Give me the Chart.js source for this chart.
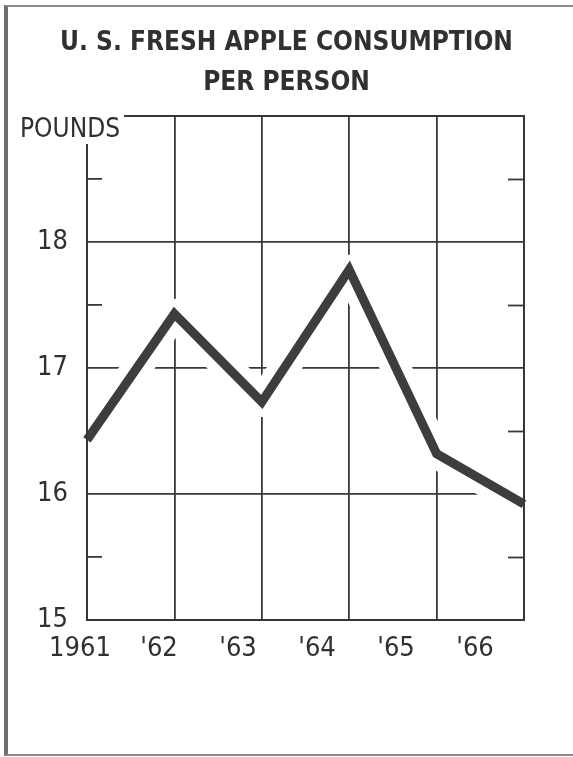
<!DOCTYPE html>
<html><head><meta charset="utf-8">
<script src="https://cdn.jsdelivr.net/npm/chart.js@4.4.1/dist/chart.umd.min.js"></script>
<style>
html,body{margin:0;padding:0;background:#fff;width:573px;height:757px;overflow:hidden;}
#frame{position:absolute;left:4px;top:5px;width:620px;height:747px;border-left:4px solid #6e6e6e;border-top:2px solid #8a8a8a;border-bottom:2px solid #8a8a8a;}
#wrap{position:absolute;left:0;top:0;width:573px;height:757px;}
</style></head><body>
<div id="frame"></div>
<div id="wrap"><canvas id="c" width="573" height="757"></canvas></div>
<script>
// ---- data ----
const years = ['1961', "'62", "'63", "'64", "'65", "'66"];
const poundsPerPerson = [16.43, 17.43, 16.73, 17.78, 16.32, 15.92];
const yLabeledTicks = [15, 16, 17, 18];
const yGridValues = [16, 17, 18];
const yMinorTicks = [15.5, 16.5, 17.5, 18.5];
const titleLines = ['U. S. FRESH APPLE CONSUMPTION', 'PER PERSON'];
const yUnitLabel = 'POUNDS';

// ---- styles ----
const INK = '#383838';
const TEXT = '#303030';
const LABEL_FONT = "'DejaVu Sans Condensed', 'Liberation Sans Narrow', sans-serif";

const unitLabelPlugin = {
  id: 'unitLabel',
  afterDraw(chart) {
    const {ctx, chartArea} = chart;
    ctx.save();
    ctx.font = "26px " + LABEL_FONT;
    const w = ctx.measureText(yUnitLabel).width;
    const x = chartArea.left - 67;
    ctx.fillStyle = '#ffffff';
    ctx.fillRect(12, chartArea.top - 14, x + w + 4 - 12, 42);
    ctx.fillStyle = TEXT;
    ctx.textBaseline = 'alphabetic';
    ctx.textAlign = 'left';
    ctx.fillText(yUnitLabel, x, chartArea.top + 21);
    ctx.restore();
  }
};

new Chart(document.getElementById('c'), {
  type: 'line',
  data: {
    labels: years,
    datasets: [
      {label: 'halo', data: poundsPerPerson, borderColor: '#ffffff', borderWidth: 30,
       pointRadius: 0, borderJoinStyle: 'round', borderCapStyle: 'round', clip: 0, order: 2},
      {label: 'Pounds per person', data: poundsPerPerson, borderColor: '#3d3d3d', borderWidth: 9,
       pointRadius: 0, borderJoinStyle: 'miter', borderCapStyle: 'butt', order: 1}
    ]
  },
  options: {
    responsive: false,
    devicePixelRatio: 1,
    animation: false,
    events: [],
    layout: {padding: 0},
    plugins: {
      legend: {display: false},
      tooltip: {enabled: false},
      title: {
        display: true, text: titleLines, color: TEXT,
        font: {family: "'DejaVu Sans Condensed', 'DejaVu Sans', sans-serif", size: 26, weight: 'bold', lineHeight: 1.55},
        padding: {top: 23, bottom: 12.4}
      }
    },
    scales: {
      x: {
        type: 'category', position: 'bottom', weight: 0,
        grid: {color: INK, lineWidth: 1.8, drawTicks: false},
        border: {display: true, color: INK, width: 2, z: 1},
        ticks: {display: false},
        afterFit(s) { s.height = 0; }
      },
      xLabels: {
        type: 'linear', position: 'bottom', weight: 1,
        min: 0.0886, max: 5.62,
        afterBuildTicks(s) { s.ticks = years.map((_, i) => ({value: i})); },
        ticks: {autoSkip: false, maxRotation: 0, padding: 13, color: TEXT,
                font: {family: LABEL_FONT, size: 27},
                callback: (v) => years[v]},
        grid: {display: false, drawTicks: false},
        border: {display: false},
        afterFit(s) { s.height = 137; }
      },
      x2: {
        type: 'linear', position: 'top', min: 0, max: 1,
        ticks: {display: false},
        grid: {drawOnChartArea: false, drawTicks: false},
        border: {display: true, color: INK, width: 2, z: 1},
        afterFit(s) { s.height = 0; }
      },
      y: {
        position: 'left', min: 15, max: 19,
        ticks: {stepSize: 0.5, padding: 34, color: TEXT,
                font: {family: LABEL_FONT, size: 27},
                callback: (v) => yLabeledTicks.includes(v) ? String(v) : ''},
        grid: {
          color: (c) => (c.tick && yGridValues.includes(c.tick.value)) ? INK : 'rgba(0,0,0,0)',
          lineWidth: 1.8,
          drawTicks: true, tickLength: -15, tickWidth: 1.8,
          tickColor: (c) => (c.tick && yMinorTicks.includes(c.tick.value)) ? INK : 'rgba(0,0,0,0)'
        },
        border: {display: true, color: INK, width: 2, z: 1},
        afterFit(s) { s.width = 87; }
      },
      y2: {
        position: 'right', min: 15, max: 19,
        ticks: {display: false, stepSize: 0.5},
        grid: {
          drawOnChartArea: false, drawTicks: true, tickLength: -16, tickWidth: 1.8,
          tickColor: (c) => (c.tick && yMinorTicks.includes(c.tick.value)) ? INK : 'rgba(0,0,0,0)'
        },
        border: {display: true, color: INK, width: 2, z: 1},
        afterFit(s) { s.width = 49; }
      }
    }
  },
  plugins: [unitLabelPlugin]
});
</script>
</body></html>
